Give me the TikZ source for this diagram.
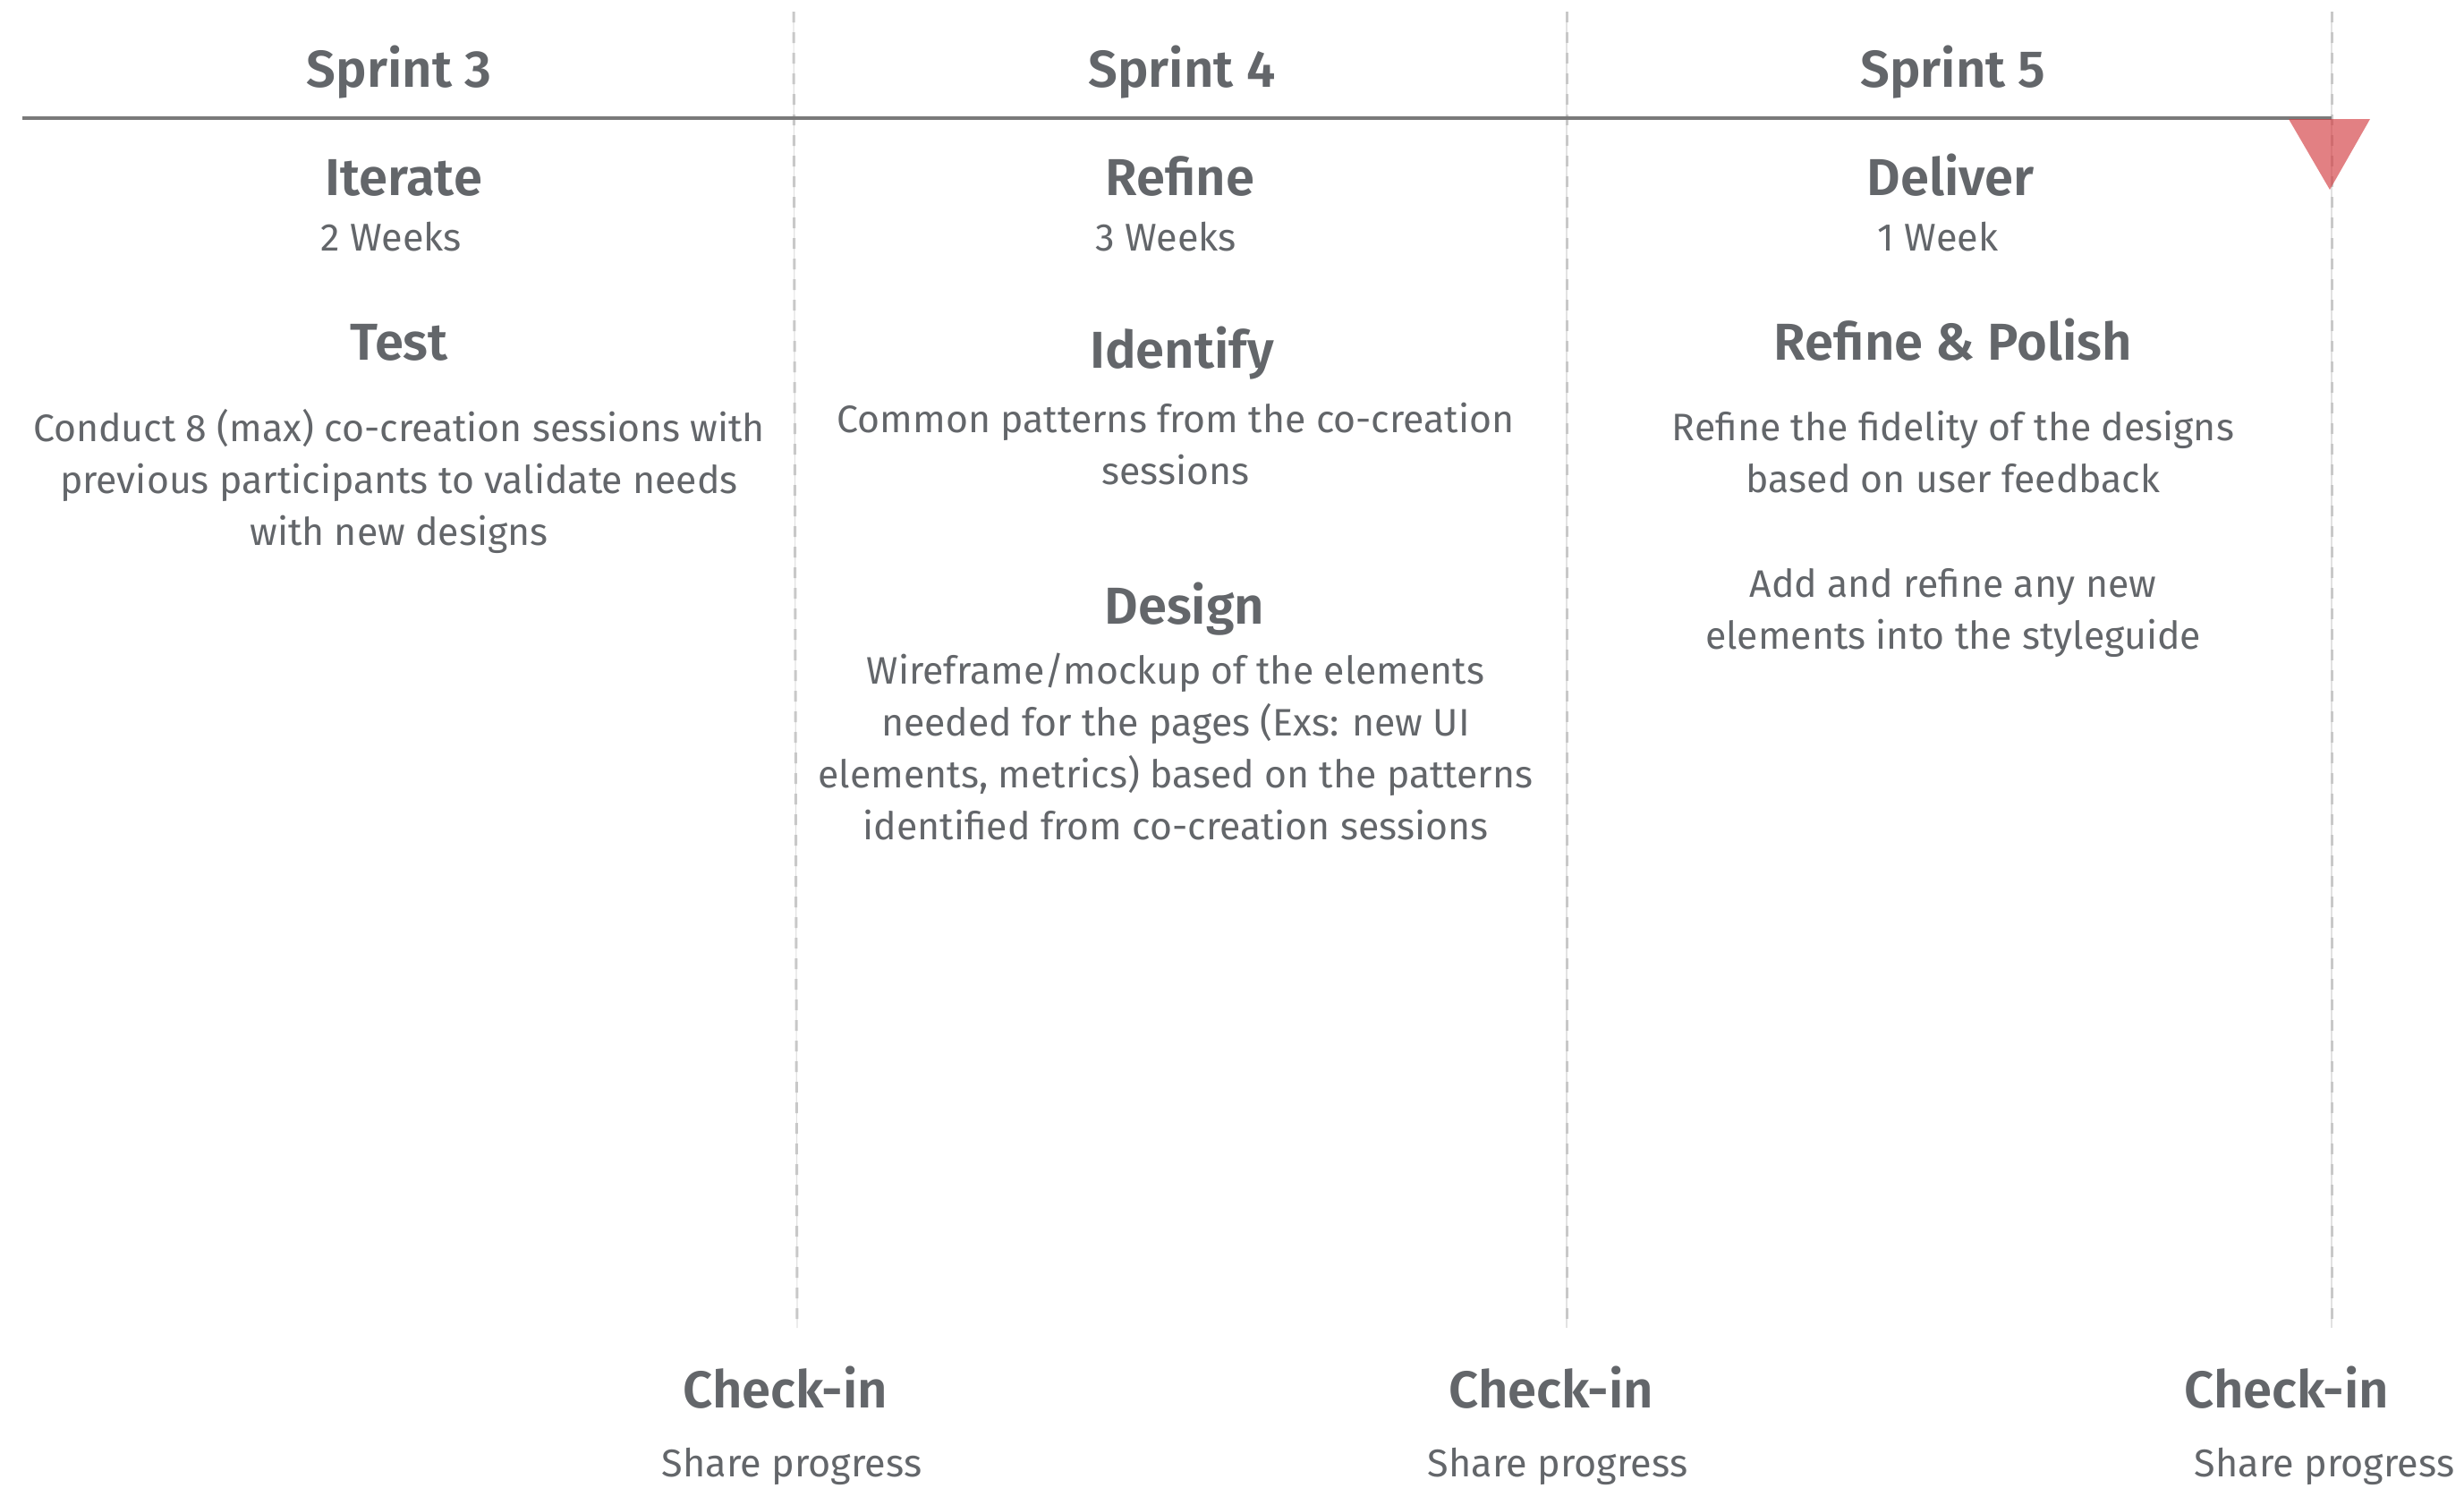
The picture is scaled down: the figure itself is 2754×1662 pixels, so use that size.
\documentclass[tikz,border=0pt]{standalone}
\usepackage{fontspec}
\setmainfont{Fira Sans}[BoldFont={Fira Sans SemiBold}]
\definecolor{textgray}{HTML}{63666A}
\definecolor{rulegray}{HTML}{7A7A7A}
\definecolor{dashgray}{HTML}{C8C8C8}
\definecolor{hairgray}{HTML}{E2E2E2}
\definecolor{marker}{RGB}{211,60,64}
\begin{document}
\begin{tikzpicture}[x=0.25pt,y=-0.25pt,
  txt/.style={text=textgray, inner sep=0pt, anchor=base, align=center},
  head/.style={txt, font=\fontsize{14.5}{17}\selectfont\bfseries},
  sub/.style={txt, font=\fontsize{10.8}{12}\selectfont},
  body/.style={txt, font=\fontsize{10.7}{14.5}\selectfont},
  divider/.style={line width=0.75pt, dashgray, dash pattern=on 3pt off 2.75pt},
  hair/.style={line width=0.3pt, hairgray},
  timeline/.style={line width=0.9pt, rulegray},
  flag/.style={fill=marker, fill opacity=0.65}]
\useasboundingbox (0,0) rectangle (2754,1662);

% sprint boundaries
\coordinate (d1t) at (887,13);  \coordinate (d1b) at (891,1484);
\coordinate (d2t) at (1751,13); \coordinate (d2b) at (1751,1484);
\coordinate (d3t) at (2606,13); \coordinate (d3b) at (2606,1484);
\foreach \d in {d1,d2,d3}{
  \draw[hair] (\d t) -- (\d b);
  \draw[divider] (\d t) -- (\d b);
}

% timeline
\coordinate (tl) at (25,132);
\coordinate (tr) at (2606,132);
\draw[timeline] (tl) -- (tr);

% current position marker
\fill[flag] (2558,133) -- (2649,133) -- (2604,212) -- cycle;

% Sprint 3 (multi-line nodes are placed by the baseline of their last line)
\node[head] (s3) at (446,97) {Sprint 3};
\node[head] (it) at (451,218) {Iterate};
\node[sub]  (w2) at (437,280) {2 Weeks};
\node[head] (te) at (446,402) {Test};
\node[body] (teb) at (446,609) {Conduct 8 (max) co-creation sessions with\\previous participants to validate needs\\with new designs};

% Sprint 4
\node[head] (s4) at (1321,97) {Sprint 4};
\node[head] (rf) at (1319,218) {Refine};
\node[sub]  (w3) at (1303,280) {3 Weeks};
\node[head] (id) at (1321,411) {Identify};
\node[body] (idb) at (1314,541) {Common patterns from the co-creation\\sessions};
\node[head] (de) at (1324,697) {Design};
\node[body] (deb) at (1314,938) {Wireframe/mockup of the elements\\needed for the pages (Exs: new UI\\elements, metrics) based on the patterns\\identified from co-creation sessions};

% Sprint 5
\node[head] (s5) at (2183,97) {Sprint 5};
\node[head] (dl) at (2180,218) {Deliver};
\node[sub]  (w1) at (2166,280) {1 Week};
\node[head] (rp) at (2183,402) {Refine \& Polish};
\node[body] (rpb) at (2183,550) {Refine the fidelity of the designs\\based on user feedback};
\node[body] (rpc) at (2183,725) {Add and refine any new\\elements into the styleguide};

% check-ins
\node[head] (c1) at (878,1573) {Check-in};
\node[sub]  (p1) at (885,1650) {Share progress};
\node[head] (c2) at (1734,1573) {Check-in};
\node[sub]  (p2) at (1741,1650) {Share progress};
\node[head] (c3) at (2556,1573) {Check-in};
\node[sub]  (p3) at (2598,1650) {Share progress};
\end{tikzpicture}
\end{document}
